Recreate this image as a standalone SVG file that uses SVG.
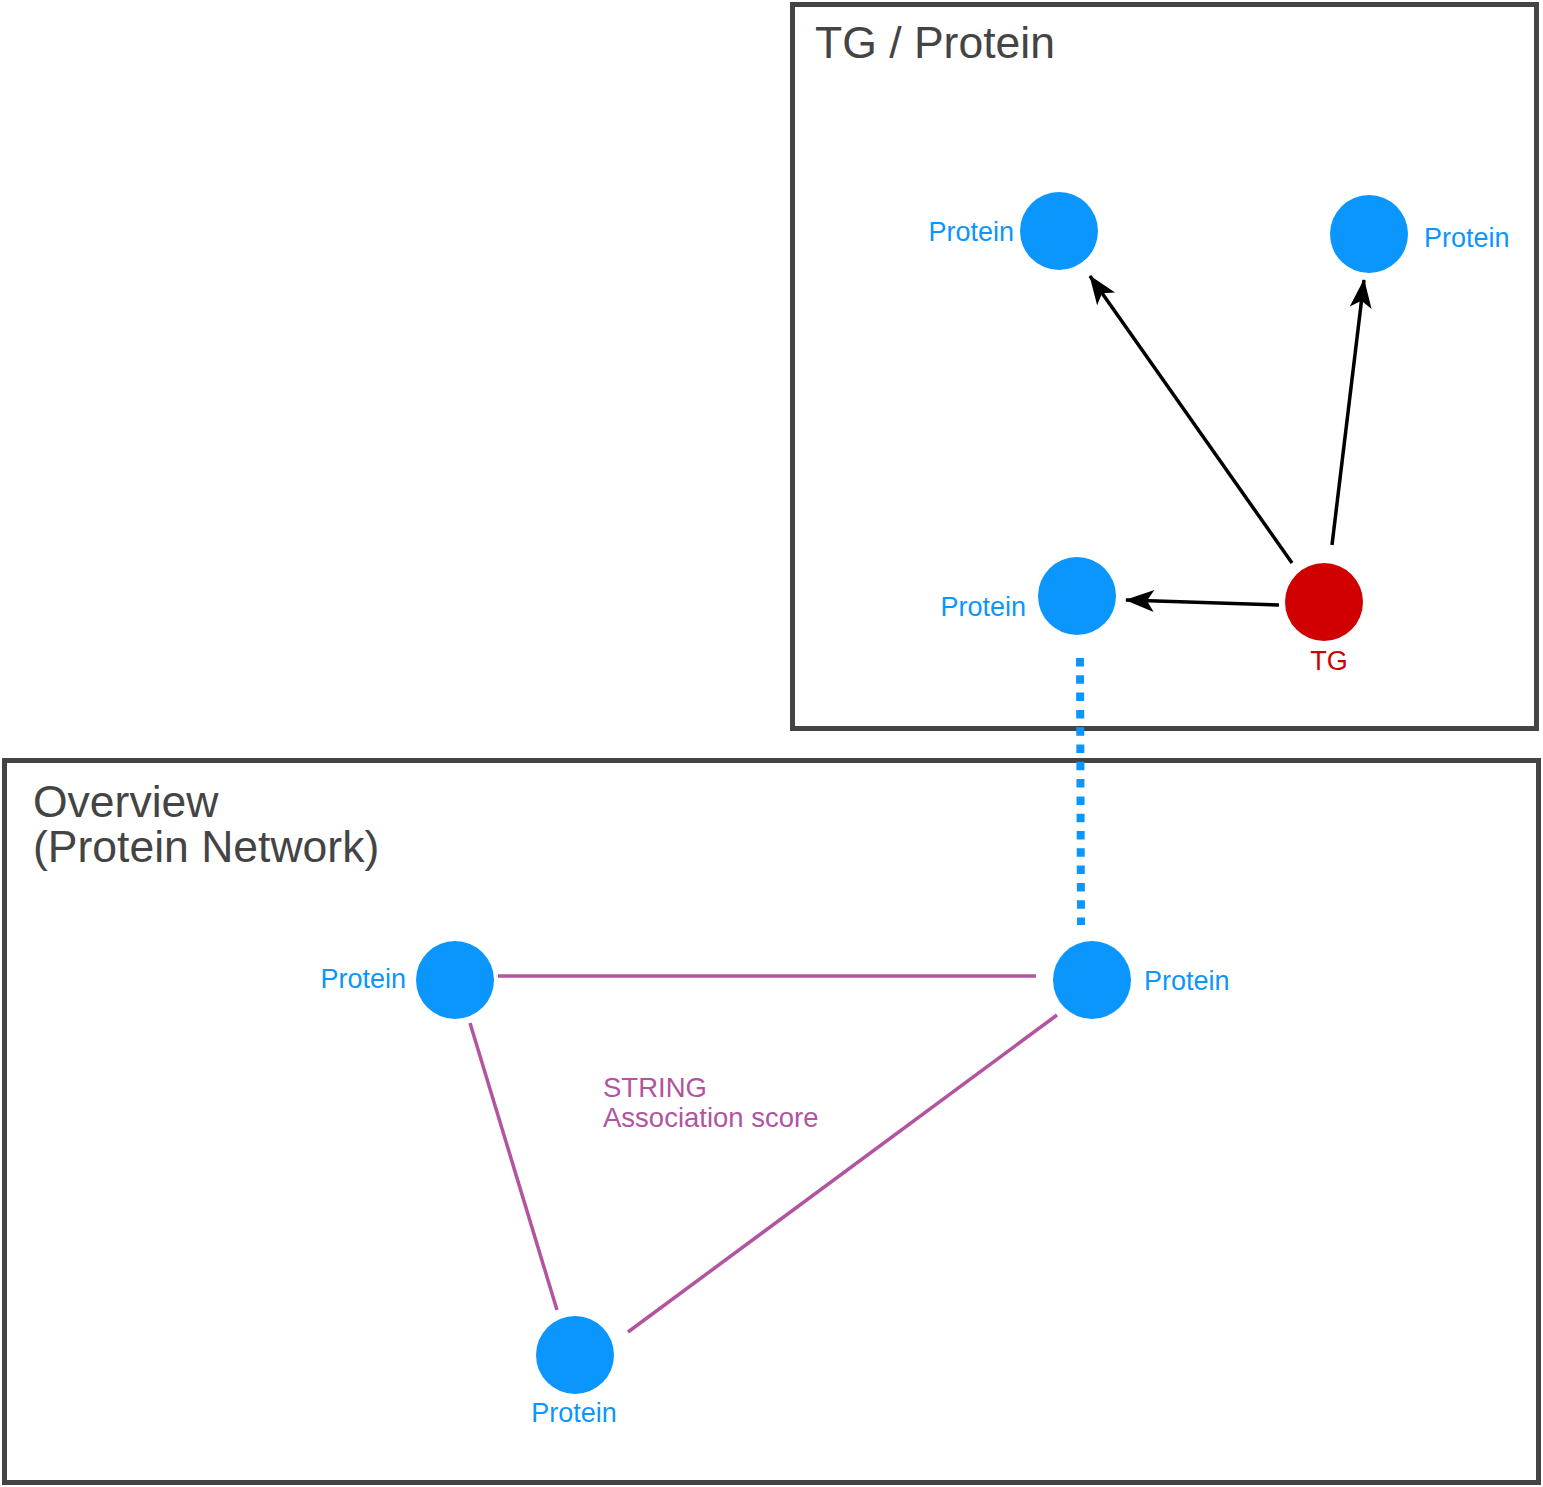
<svg xmlns="http://www.w3.org/2000/svg" width="1543" height="1487" viewBox="0 0 1543 1487">
<style>
.frame{fill:#fff;stroke:#444;stroke-width:5}
.title{font-family:"Liberation Sans",Arial,sans-serif;font-size:44.5px;fill:#444}
.prot{fill:#0a96fd}
.tg{fill:#d10000}
.lbl{font-family:"Liberation Sans",Arial,sans-serif;font-size:27px;fill:#0a96fd}
.tglbl{font-family:"Liberation Sans",Arial,sans-serif;font-size:27px;fill:#d10000}
.arr{stroke:#000;stroke-width:3.5;fill:none;marker-end:url(#ah)}
.ppi{stroke:#b2549f;stroke-width:3.5;fill:none}
.score{font-family:"Liberation Sans",Arial,sans-serif;font-size:27.5px;fill:#b2549f}
</style>
<defs>
<marker id="ah" markerUnits="userSpaceOnUse" viewBox="0 0 30 24" refX="29" refY="12" markerWidth="30" markerHeight="24" orient="auto">
<path d="M30,12 L1,1 L8,12 L1,23 Z" fill="#000"/>
</marker>
</defs>
<rect width="1543" height="1487" fill="#fff"/>
<g id="frame-tg">
<rect class="frame" x="792.5" y="4.5" width="744" height="724"/>
<text class="title" x="815" y="58">TG / Protein</text>
</g>
<g id="frame-overview">
<rect class="frame" x="4.5" y="760.5" width="1534" height="722"/>
<text class="title" x="33" y="817">Overview</text>
<text class="title" x="33" y="862">(Protein Network)</text>
</g>
<g id="connectors">
<line class="arr" x1="1292" y1="563" x2="1090" y2="276"/>
<line class="arr" x1="1332" y1="545" x2="1364" y2="280"/>
<line class="arr" x1="1279" y1="605" x2="1126" y2="600"/>
<line x1="1080" y1="658" x2="1081" y2="925" stroke="#0a96fd" stroke-width="8" stroke-dasharray="8.5 8.8"/>
<line class="ppi" x1="498" y1="976" x2="1036" y2="976"/>
<line class="ppi" x1="470" y1="1023" x2="557" y2="1310"/>
<line class="ppi" x1="1057" y1="1015" x2="628" y2="1332"/>
<text class="score" x="603" y="1097">STRING</text>
<text class="score" x="603" y="1127">Association score</text>
</g>
<g id="tg-protein-1"><circle class="prot" cx="1059" cy="231" r="39"/><text class="lbl" x="1014" y="241" text-anchor="end">Protein</text></g>
<g id="tg-protein-2"><circle class="prot" cx="1369" cy="234" r="39"/><text class="lbl" x="1424" y="247">Protein</text></g>
<g id="tg-protein-3"><circle class="prot" cx="1077" cy="596" r="39"/><text class="lbl" x="1026" y="616" text-anchor="end">Protein</text></g>
<g id="tg"><circle class="tg" cx="1324" cy="602" r="39"/><text class="tglbl" x="1329" y="670" text-anchor="middle">TG</text></g>
<g id="net-protein-1"><circle class="prot" cx="455" cy="980" r="39"/><text class="lbl" x="406" y="988" text-anchor="end">Protein</text></g>
<g id="net-protein-2"><circle class="prot" cx="1092" cy="980" r="39"/><text class="lbl" x="1144" y="990">Protein</text></g>
<g id="net-protein-3"><circle class="prot" cx="575" cy="1355" r="39"/><text class="lbl" x="574" y="1422" text-anchor="middle">Protein</text></g>
</svg>
